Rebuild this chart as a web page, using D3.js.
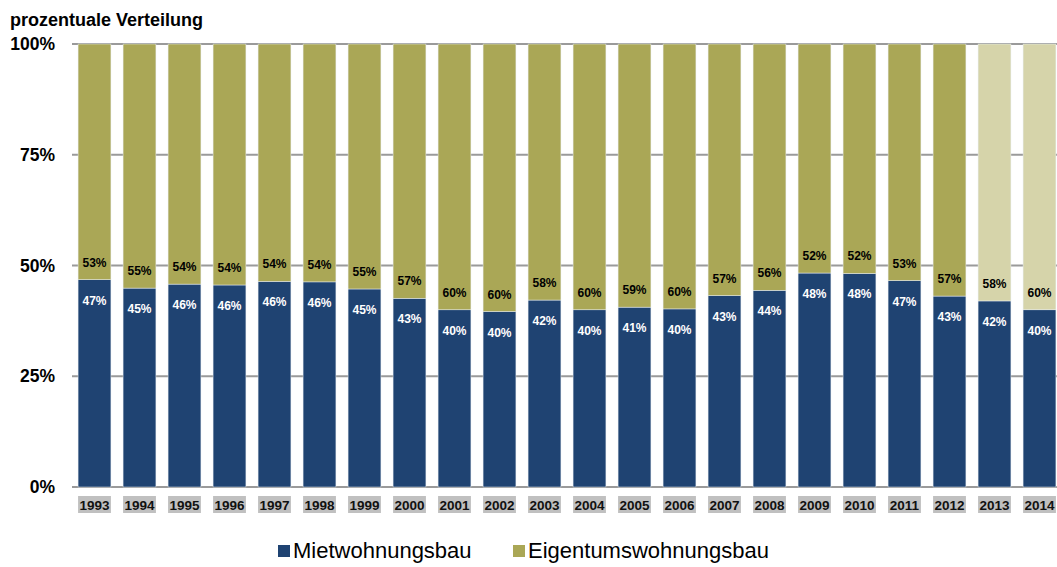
<!DOCTYPE html>
<html>
<head>
<meta charset="utf-8">
<script src="https://cdn.jsdelivr.net/npm/d3@7"></script>
<style>
  body { margin: 0; background: white; }
  svg { display: block; font-family: 'Liberation Sans', Arial, sans-serif; }
</style>
</head>
<body>
<div id="chart"></div>
<script>
let years = ['1993', '1994', '1995', '1996', '1997', '1998', '1999', '2000', '2001', '2002', '2003',
  '2004', '2005', '2006', '2007', '2008', '2009', '2010', '2011', '2012', '2013', '2014']

// Anteil Mietwohnungsbau (%)
let mietValues = [46.8, 44.9, 45.8, 45.6, 46.4, 46.3, 44.7, 42.6, 40.0, 39.6, 42.2,
  40.0, 40.6, 40.2, 43.2, 44.4, 48.3, 48.2, 46.6, 43.1, 42.0, 40.0]

// Anteil Eigentumswohnungsbau (%)
let eigenValues = [53.2, 55.1, 54.2, 54.4, 53.6, 53.7, 55.3, 57.4, 60.0, 60.4, 57.8,
  60.0, 59.4, 59.8, 56.8, 55.6, 51.7, 51.8, 53.4, 56.9, 58.0, 60.0]

// Jahre mit heller dargestelltem Eigentumsanteil
let lightYears = ['2013', '2014']

let seriesNames = ['Mietwohnungsbau', 'Eigentumswohnungsbau']
let yTicks = [0, 25, 50, 75, 100]

let width = 1057
let height = 567
let margin = { top: 44, left: 72, right: -5, bottom: 80 }

let svg = d3
  .select('#chart')
  .append('svg')
  .attr('width', width)
  .attr('height', height)

let table = years.map((y, i) => ({
  year: y,
  Mietwohnungsbau: mietValues[i],
  Eigentumswohnungsbau: eigenValues[i]
}))

let stacked = d3.stack().keys(seriesNames)(table)

let x = d3
  .scaleBand()
  .domain(years)
  .range([margin.left, width - margin.right])
  .paddingInner(0.27)
  .paddingOuter(0.135)

let y = d3
  .scaleLinear()
  .domain([0, 100])
  .range([height - margin.bottom, margin.top])

let colors = { Mietwohnungsbau: '#1f4372', Eigentumswohnungsbau: '#aaa756' }
let lightColor = '#d6d4aa'

// gridlines
svg
  .append('g')
  .selectAll('line')
  .data(yTicks)
  .enter()
  .append('line')
  .attr('x1', margin.left)
  .attr('x2', width)
  .attr('y1', d => y(d))
  .attr('y2', d => y(d))
  .attr('stroke', '#9a9a9a')
  .attr('stroke-width', 2)

// y axis labels
let yAxis = d3.axisLeft(y).tickValues(yTicks).tickFormat(d => d + '%').tickSize(0).tickPadding(17)
svg
  .append('g')
  .attr('transform', `translate(${margin.left},0)`)
  .call(yAxis)
  .call(g => g.select('.domain').remove())
  .selectAll('text')
  .attr('font-size', 17.5)
  .attr('font-weight', 'bold')
  .attr('fill', '#000')
  .attr('font-family', "'Liberation Sans', Arial, sans-serif")

// bars
svg
  .selectAll('.series')
  .data(stacked)
  .enter()
  .append('g')
  .attr('class', 'series')
  .selectAll('rect')
  .data(s => s.map(d => ({ key: s.key, d: d })))
  .enter()
  .append('rect')
  .attr('x', e => x(e.d.data.year))
  .attr('width', x.bandwidth())
  .attr('y', e => y(e.d[1]))
  .attr('height', e => y(e.d[0]) - y(e.d[1]))
  .attr('fill', e => {
    if (e.key === 'Eigentumswohnungsbau' && lightYears.includes(e.d.data.year)) return lightColor
    return colors[e.key]
  })
  .attr('stroke', '#e8edf2')
  .attr('stroke-width', 0.5)

// Miet labels (inside blue part, below the top)
svg
  .selectAll('.miet-label')
  .data(table)
  .enter()
  .append('text')
  .attr('class', 'miet-label')
  .attr('x', d => x(d.year) + x.bandwidth() / 2)
  .attr('y', d => y(d.Mietwohnungsbau) + 25)
  .attr('text-anchor', 'middle')
  .attr('font-size', 12)
  .attr('font-weight', 'bold')
  .attr('fill', 'white')
  .text(d => Math.round(d.Mietwohnungsbau) + '%')

// Eigentum labels (just above the boundary)
svg
  .selectAll('.eigen-label')
  .data(table)
  .enter()
  .append('text')
  .attr('class', 'eigen-label')
  .attr('x', d => x(d.year) + x.bandwidth() / 2)
  .attr('y', d => y(d.Mietwohnungsbau) - 13)
  .attr('text-anchor', 'middle')
  .attr('font-size', 12)
  .attr('font-weight', 'bold')
  .attr('fill', '#000')
  .text(d => Math.round(d.Eigentumswohnungsbau) + '%')

// year labels with grey boxes
let xAxisG = svg.append('g').attr('transform', `translate(0,${y(0) + 9})`)
xAxisG
  .selectAll('rect')
  .data(years)
  .enter()
  .append('rect')
  .attr('x', d => x(d))
  .attr('width', x.bandwidth())
  .attr('y', 0)
  .attr('height', 17)
  .attr('fill', '#c0c0c0')
xAxisG
  .selectAll('text')
  .data(years)
  .enter()
  .append('text')
  .attr('x', d => x(d) + x.bandwidth() / 2)
  .attr('y', 13.5)
  .attr('text-anchor', 'middle')
  .attr('font-size', 13.5)
  .attr('font-weight', 'bold')
  .attr('fill', '#111')
  .text(d => d)

// title
svg
  .append('text')
  .text('prozentuale Verteilung')
  .attr('x', 10)
  .attr('y', 26)
  .attr('font-size', 18)
  .attr('font-weight', 'bold')
  .attr('fill', '#000')

// legend
let legendX = [278, 513]
let legend = svg
  .selectAll('.legend')
  .data(seriesNames)
  .enter()
  .append('g')
  .attr('class', 'legend')
  .attr('transform', (d, i) => `translate(${legendX[i]},545)`)
legend
  .append('rect')
  .attr('width', 12)
  .attr('height', 12)
  .attr('fill', d => colors[d])
legend
  .append('text')
  .attr('x', 15)
  .attr('y', 13)
  .attr('font-size', 22)
  .attr('fill', '#000')
  .text(d => d)
</script>
</body>
</html>
